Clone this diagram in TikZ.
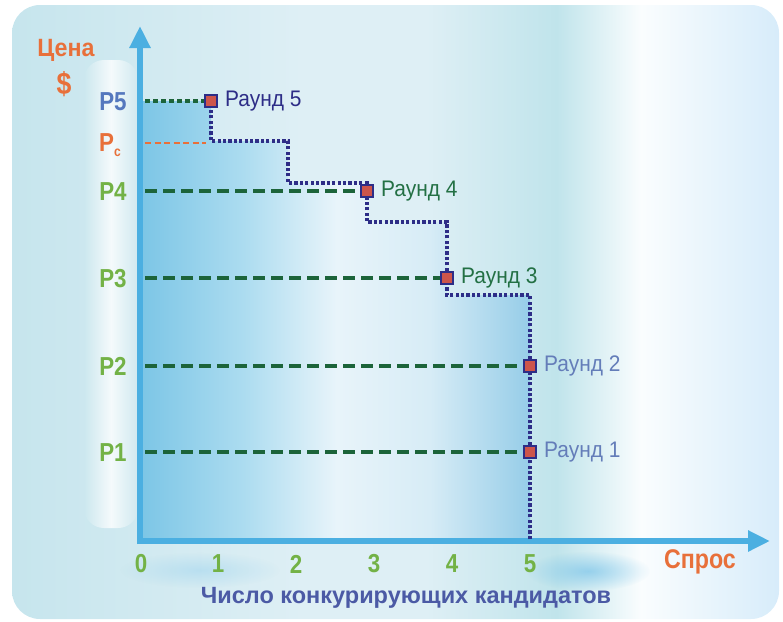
\documentclass[tikz,border=0pt]{standalone}
\usepackage{fontspec}
\setmainfont{Liberation Sans}
\newfontfamily\cond{Liberation Sans}[FakeStretch=0.86]
\newfontfamily\condw{Liberation Sans}[FakeStretch=0.93]
\usetikzlibrary{arrows.meta,fadings}
\definecolor{axisblue}{RGB}{75,175,225}
\definecolor{orng}{RGB}{232,112,58}
\definecolor{pblue}{RGB}{85,120,190}
\definecolor{pgreen}{RGB}{115,178,70}
\definecolor{dgreen}{RGB}{28,100,58}
\definecolor{navy}{RGB}{45,45,135}
\definecolor{rfour}{RGB}{35,112,68}
\definecolor{rone}{RGB}{100,125,185}
\definecolor{xlab}{RGB}{75,90,165}
\definecolor{mfill}{RGB}{205,85,75}
\definecolor{bgA}{RGB}{198,229,237}
\definecolor{bgB}{RGB}{222,239,245}
\definecolor{bgC}{RGB}{192,228,235}
\definecolor{bgD}{RGB}{250,253,254}
\definecolor{bgE}{RGB}{215,236,250}
\definecolor{fA}{RGB}{125,198,230}
\definecolor{fB}{RGB}{172,220,240}
\definecolor{fC}{RGB}{232,244,250}
\definecolor{fD}{RGB}{215,236,246}
\definecolor{fE}{RGB}{150,205,232}
\pgfdeclarehorizontalshading{bgshade}{100bp}{color(0bp)=(bgA); color(25bp)=(bgA); color(44bp)=(bgB); color(52bp)=(bgB); color(60.5bp)=(bgC); color(66bp)=(bgD); color(75bp)=(bgE); color(100bp)=(bgE)}
\pgfdeclarehorizontalshading{fillshade}{100bp}{color(0bp)=(fA); color(25bp)=(fA); color(38bp)=(fB); color(50bp)=(fC); color(62bp)=(fD); color(75bp)=(fE); color(100bp)=(fE)}
\tikzfading[name=stripfade, left color=transparent!100, right color=transparent!100, middle color=transparent!20]
\tikzfading[name=glowfade, inner color=transparent!15, outer color=transparent!100]
\tikzset{
  plab/.style={font=\cond\bfseries\fontsize{26}{26}\selectfont, anchor=center},
  tick/.style={font=\cond\bfseries\fontsize{26}{26}\selectfont, text=pgreen, anchor=center},
  rlab/.style={font=\condw\fontsize{22.5}{22.5}\selectfont, anchor=west, inner sep=0pt},
  guide/.style={draw=dgreen, line width=3.1pt, dash pattern=on 12pt off 6pt},
  stair/.style={draw=navy, line width=4pt, dash pattern=on 3.2pt off 2.2pt},
  marker/.style={draw=navy, fill=mfill, line width=2.6pt, minimum size=12pt, inner sep=0pt},
  axis/.style={draw=axisblue, line width=6pt, -{Triangle[length=22pt,width=20pt]}}
}
\begin{document}
\begin{tikzpicture}[x=1pt,y=-1pt]
\useasboundingbox (0,0) rectangle (783,621);
% background panel
\shade[shading=bgshade, rounded corners=28pt] (12,5) rectangle (779,619);
% white strip behind labels
\fill[white, rounded corners=20pt, path fading=stripfade] (84,60) rectangle (138,528);
% glows under axis
\fill[axisblue!75, path fading=glowfade, opacity=0.8] (588,571) ellipse (62pt and 20pt);
\fill[axisblue!60, path fading=glowfade, opacity=0.5] (200,570) ellipse (80pt and 18pt);
% fill under staircase
\shade[shading=fillshade] (143,101) -- (211,101) -- (211,141) -- (288,141) -- (288,183) -- (367,183) -- (367,222) -- (447,222) -- (447,295) -- (530,295) -- (530,538) -- (143,538) -- cycle;
% axes
\coordinate (O) at (140,541);
\coordinate (ytop) at (140,26);
\coordinate (xend) at (770,541);
\draw[axis] (140,544) -- (ytop);
\draw[axis] (137,541) -- (xend);
% axis labels
\node[font=\condw\bfseries\fontsize{25}{25}\selectfont, text=orng] (cena) at (66,50) {Цена};
\node[font=\cond\bfseries\fontsize{31}{31}\selectfont, text=orng] (dollar) at (64,84) {\$};
\node[font=\cond\bfseries\fontsize{27}{27}\selectfont, text=orng] (spros) at (700,562) {Спрос};
\node[font=\bfseries\fontsize{23.5}{23.5}\selectfont, text=xlab] (xtitle) at (406,598) {Число конкурирующих кандидатов};
% y labels
\node[plab, text=pblue] (p5) at (113,102) {P5};
\node[plab, text=orng] (pc) at (110,145) {P\raisebox{-5pt}{\fontsize{14}{14}\selectfont c}};
\node[plab, text=pgreen] (p4) at (113,192) {P4};
\node[plab, text=pgreen] (p3) at (113,279) {P3};
\node[plab, text=pgreen] (p2) at (113,366) {P2};
\node[plab, text=pgreen] (p1) at (113,453) {P1};
% x ticks
\node[tick] (t0) at (141,564) {0};
\node[tick] (t1) at (218,564) {1};
\node[tick] (t2) at (296,564) {2};
\node[tick] (t3) at (374,564) {3};
\node[tick] (t4) at (452,564) {4};
\node[tick] (t5) at (530,564) {5};
% staircase
\coordinate (s0) at (530,539);
\node[marker] (r1) at (530,452) {};
\node[marker] (r2) at (530,366) {};
\node[marker] (r3) at (447,278) {};
\node[marker] (r4) at (367,191) {};
\node[marker] (r5) at (211,101) {};
\draw[stair] (s0) -- (r1) -- (r2) -- (530,295) -- (447,295) -- (r3);
\draw[stair] (r3) -- (447,222) -- (367,222) -- (r4);
\draw[stair] (r4) -- (367,183) -- (288,183) -- (288,141) -- (211,141) -- (r5);
% guides
\coordinate (g5) at (145,101);
\coordinate (gc) at (145,143);
\coordinate (g4) at (145,191);
\coordinate (g3) at (145,278);
\coordinate (g2) at (145,366);
\coordinate (g1) at (145,452);
\draw[guide, dash pattern=on 5pt off 3pt] (g5) -- (r5);
\draw[draw=orng, line width=2.6pt, dash pattern=on 6pt off 3.5pt] (gc) -- (206,143);
\draw[guide] (g4) -- (r4);
\draw[guide] (g3) -- (r3);
\draw[guide] (g2) -- (r2);
\draw[guide] (g1) -- (r1);
% markers on top
\node[marker] at (r1) {};
\node[marker] at (r2) {};
\node[marker] at (r3) {};
\node[marker] at (r4) {};
\node[marker] at (r5) {};
% round labels
\node[rlab, text=navy] (l5) at (225,101) {Раунд 5};
\node[rlab, text=rfour] (l4) at (381,191) {Раунд 4};
\node[rlab, text=rfour] (l3) at (461,278) {Раунд 3};
\node[rlab, text=rone] (l2) at (544,366) {Раунд 2};
\node[rlab, text=rone] (l1) at (544,452) {Раунд 1};
\end{tikzpicture}
\end{document}
